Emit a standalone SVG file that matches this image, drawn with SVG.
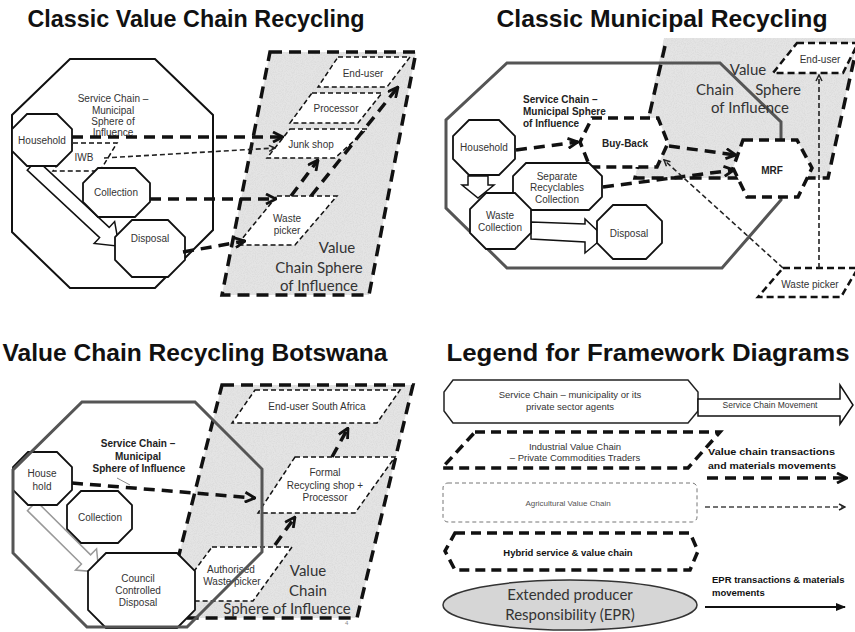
<svg xmlns="http://www.w3.org/2000/svg" width="855" height="632" viewBox="0 0 855 632">
<defs>
<style>
.title{font-family:"Liberation Sans",Arial,sans-serif;font-weight:bold;font-size:24px;fill:#111;text-anchor:middle}
.lbl{font-family:"Liberation Sans",Arial,sans-serif;font-size:10px;fill:#333;text-anchor:middle}
.lblb{font-family:"Liberation Sans",Arial,sans-serif;font-size:10px;font-weight:bold;fill:#222;text-anchor:middle}
.lg{font-family:"Liberation Sans",Arial,sans-serif;font-size:9.5px;fill:#333;text-anchor:middle}
.lgb{font-family:"Liberation Sans",Arial,sans-serif;font-size:9.5px;font-weight:bold;fill:#111}
.sph{font-family:Lato,"Open Sans",sans-serif;font-size:15px;fill:#333;text-anchor:middle}
.svc{fill:#fff;stroke:#111;stroke-width:1.8}
.svcbig{fill:none;stroke:#111;stroke-width:2}
.svcgrey{fill:none;stroke:#555;stroke-width:3}
.vcbox{fill:#fff;stroke:#111;stroke-width:1.5;stroke-dasharray:5 3}
.vcbox2{fill:#fff;stroke:#111;stroke-width:2.5;stroke-dasharray:7 4}
.sphere{fill:#e4e4e4}
.sphereline{fill:none;stroke:#111;stroke-width:3.5;stroke-dasharray:12 7}
.hyb{fill:#fff;stroke:#111;stroke-width:3.5;stroke-dasharray:10 6}
.flow{fill:none;stroke:#111;stroke-width:3.5;stroke-dasharray:11 7}
.thin{fill:none;stroke:#222;stroke-width:1.6;stroke-dasharray:5 3}
.block{fill:#fff;stroke:#111;stroke-width:1.5}
</style>
<filter id="grain" x="0" y="0" width="100%" height="100%">
  <feTurbulence type="fractalNoise" baseFrequency="0.9" numOctaves="2" seed="4" result="n"/>
  <feColorMatrix in="n" type="matrix" values="0 0 0 0 0.6  0 0 0 0 0.6  0 0 0 0 0.6  0.9 0 0 0 -0.35" result="g"/>
  <feComposite in="g" in2="SourceGraphic" operator="in" result="gi"/>
  <feMerge><feMergeNode in="SourceGraphic"/><feMergeNode in="gi"/></feMerge>
</filter>
<marker id="chev" viewBox="0 0 12 12" markerWidth="12" markerHeight="12" refX="11" refY="6" orient="auto" markerUnits="userSpaceOnUse">
  <path d="M1,1 L11,6 L1,11" fill="none" stroke="#111" stroke-width="2.8"/>
</marker>
<marker id="chevS" viewBox="0 0 8 8" markerWidth="8" markerHeight="8" refX="7" refY="4" orient="auto" markerUnits="userSpaceOnUse">
  <path d="M1,1 L7,4 L1,7" fill="none" stroke="#222" stroke-width="1.5"/>
</marker>
<marker id="tri" viewBox="0 0 10 10" markerWidth="10" markerHeight="10" refX="9" refY="5" orient="auto" markerUnits="userSpaceOnUse">
  <path d="M0,1 L10,5 L0,9 Z" fill="#111"/>
</marker>
</defs>

<rect width="855" height="632" fill="#fff"/>

<!-- Titles -->
<text class="title" x="196" y="27" textLength="337" lengthAdjust="spacingAndGlyphs">Classic Value Chain Recycling</text>
<text class="title" x="662" y="27" textLength="331" lengthAdjust="spacingAndGlyphs">Classic Municipal Recycling</text>
<text class="title" x="195" y="361" textLength="385" lengthAdjust="spacingAndGlyphs">Value Chain Recycling Botswana</text>
<text class="title" x="648" y="361" textLength="403" lengthAdjust="spacingAndGlyphs">Legend for Framework Diagrams</text>

<!-- ===== Panel 1: classic value chain recycling ===== -->
<g id="p1-value-sphere">
  <polygon class="sphere" filter="url(#grain)" points="270,52 416,52 369,295 222,295"/>
  <polygon class="sphereline" points="270,52 416,52 369,295 222,295"/>
  <text class="sph" x="337" y="253">Value</text>
  <text class="sph" x="319" y="273">Chain Sphere</text>
  <text class="sph" x="319" y="291">of Influence</text>
</g>
<g id="p1-service-sphere">
  <polygon class="svcbig" points="70,59 155,59 213,115 213,230 155,288 70,288 12,232 12,115"/>
  <text class="lbl" x="113" y="102">Service Chain –</text>
  <text class="lbl" x="113" y="114">Municipal</text>
  <text class="lbl" x="113" y="125">Sphere of</text>
  <text class="lbl" x="113" y="136">Influence</text>
</g>
<g id="p1-end-user">
  <polygon class="vcbox" points="338,57 410,57 387,87 318,87"/>
  <text class="lbl" x="363" y="77">End-user</text>
</g>
<g id="p1-processor">
  <polygon class="vcbox" points="312,93 382,93 358,123 290,123"/>
  <text class="lbl" x="336" y="112">Processor</text>
</g>
<g id="p1-junk-shop">
  <polygon class="vcbox" points="290,129 367,129 335,158 267,158"/>
  <text class="lbl" x="311" y="148">Junk shop</text>
</g>
<g id="p1-waste-picker">
  <polygon class="vcbox" points="277,196 337,196 295,245 237,245"/>
  <text class="lbl" x="287" y="222">Waste</text>
  <text class="lbl" x="287" y="234">picker</text>
</g>
<g id="p1-iwb">
  <polygon class="vcbox" points="73,143 117,143 100,171 53,171"/>
  <text class="lbl" x="84" y="161">IWB</text>
</g>
<g id="p1-service-flow">
  <polygon class="block" transform="translate(32,165) rotate(43)" points="0,-7 99,-7 99,-15 119,0 99,15 99,7 0,7"/>
</g>
<g id="p1-household">
  <polygon class="svc" points="27,114 57,114 72,129 72,151 57,166 27,166 12,151 12,129"/>
  <text class="lbl" x="42" y="144">Household</text>
</g>
<g id="p1-collection">
  <polygon class="svc" points="98,168 135,168 150,183 150,202 135,217 98,217 83,202 83,183"/>
  <text class="lbl" x="116" y="196">Collection</text>
</g>
<g id="p1-disposal">
  <polygon class="svc" points="132,220 168,220 185,237 185,260 168,277 132,277 115,260 115,237"/>
  <text class="lbl" x="150" y="242">Disposal</text>
</g>

<!-- ===== Panel 2: classic municipal recycling ===== -->
<g id="p2-value-sphere">
  <polygon class="sphere" filter="url(#grain)" points="664,38 858,38 828,178 635,178"/>
  <path class="sphereline" d="M665,46 L635,178 L828,178 L857,46"/>
</g>
<g id="p2-service-sphere">
  <polygon class="svcgrey" points="507,63 720,63 781,122 781,200 722,268 507,268 446,208 446,120"/>
  <text class="lblb" x="523" y="103" style="text-anchor:start">Service Chain –</text>
  <text class="lblb" x="523" y="115" style="text-anchor:start">Municipal Sphere</text>
  <text class="lblb" x="523" y="127" style="text-anchor:start">of Influence</text>
</g>
<g id="p2-sphere-label">
  <text class="sph" x="748" y="75">Value</text>
  <text class="sph" x="715" y="95">Chain</text>
  <text class="sph" x="778" y="95">Sphere</text>
  <text class="sph" x="750" y="113">of Influence</text>
</g>
<g id="p2-end-user">
  <polygon class="vcbox2" points="797,43 858,43 843,73 773,73"/>
  <text class="lbl" x="820" y="63">End-user</text>
</g>
<g id="p2-waste-picker">
  <polygon class="vcbox2" points="783,268 858,268 841,297 758,297"/>
  <text class="lbl" x="810" y="288">Waste picker</text>
</g>
<g id="p2-buy-back">
  <polygon class="hyb" points="592,118 658,118 668,143 657,167 590,167 580,142"/>
  <text class="lblb" x="625" y="147">Buy-Back</text>
</g>
<g id="p2-mrf">
  <polygon class="hyb" points="743,140 797,140 812,168 798,197 747,197 733,168"/>
  <text class="lblb" x="772" y="174">MRF</text>
</g>
<g id="p2-household">
  <polygon class="svc" points="469,120 499,120 515,136 515,159 499,175 469,175 453,159 453,136"/>
  <text class="lbl" x="484" y="151">Household</text>
</g>
<g id="p2-separate">
  <polygon class="svc" points="526,163 589,163 602,176 602,197 589,210 526,210 513,197 513,176"/>
  <text class="lbl" x="557" y="180">Separate</text>
  <text class="lbl" x="557" y="191">Recyclables</text>
  <text class="lbl" x="557" y="203">Collection</text>
</g>
<g id="p2-service-flow">
  <polygon class="block" points="468,176 488,176 488,185 494,185 478,198 462,185 468,185"/>
  <polygon class="block" points="531,222 585,224 585,219 604,237 585,253 585,242 531,239"/>
</g>
<g id="p2-waste-collection">
  <polygon class="svc" points="486,193 515,193 531,209 531,233 515,249 486,249 470,233 470,209"/>
  <text class="lbl" x="500" y="219">Waste</text>
  <text class="lbl" x="500" y="231">Collection</text>
</g>
<g id="p2-disposal">
  <polygon class="svc" points="613,205 646,205 662,221 662,243 646,259 613,259 597,243 597,221"/>
  <text class="lbl" x="629" y="237">Disposal</text>
</g>

<!-- ===== Panel 3: Botswana ===== -->
<g id="p3-value-sphere">
  <polygon class="sphere" filter="url(#grain)" points="222,385 413,385 357,618 163,618"/>
  <polygon class="sphereline" points="222,385 413,385 357,618 163,618"/>
  <text class="sph" x="308" y="576">Value</text>
  <text class="sph" x="308" y="596">Chain</text>
  <text class="sph" x="287" y="614">Sphere of Influence</text>
  <text x="345" y="625" style="font-family:'Liberation Sans',sans-serif;font-size:6px;fill:#888">4</text>
</g>
<g id="p3-end-user">
  <polygon class="vcbox" points="255,390 400,390 377,423 232,423"/>
  <text class="lbl" x="317" y="410">End-user South Africa</text>
</g>
<g id="p3-formal">
  <polygon class="vcbox" points="295,457 395,457 355,513 258,513"/>
  <text class="lbl" x="325" y="476">Formal</text>
  <text class="lbl" x="325" y="489">Recycling shop +</text>
  <text class="lbl" x="325" y="501">Processor</text>
</g>
<g id="p3-authorised">
  <polygon class="vcbox" points="212,547 292,547 253,601 172,601"/>
  <text class="lbl" x="231" y="573">Authorised</text>
  <text class="lbl" x="232" y="585">Waste picker</text>
</g>
<g id="p3-service-flow">
  <polygon class="block" style="stroke:#999" transform="translate(32,506) rotate(44.7)" points="0,-6.5 76,-6.5 76,-15 94,0 76,15 76,6.5 0,6.5"/>
</g>
<g id="p3-household">
  <polygon class="svc" points="28,452 57,452 72,467 72,490 57,505 28,505 13,490 13,467"/>
  <text class="lbl" x="42" y="477">House</text>
  <text class="lbl" x="42" y="490">hold</text>
</g>
<g id="p3-collection">
  <polygon class="svc" points="81,491 118,491 132,505 132,529 118,543 81,543 67,529 67,505"/>
  <text class="lbl" x="100" y="521">Collection</text>
</g>
<g id="p3-council">
  <polygon class="svc" points="106,553 177,553 195,571 195,610 177,628 106,628 88,610 88,571"/>
  <text class="lbl" x="138" y="582">Council</text>
  <text class="lbl" x="138" y="594">Controlled</text>
  <text class="lbl" x="138" y="606">Disposal</text>
</g>

<!-- ===== Legend ===== -->
<g id="lg-service-chain">
  <polygon points="453,380 688,380 698,392 698,411 688,423 453,423 444,411 444,392" fill="#fff" stroke="#222" stroke-width="1.5"/>
  <text class="lg" x="570" y="398">Service Chain – municipality or its</text>
  <text class="lg" x="570" y="410">private sector agents</text>
</g>
<g id="lg-service-move">
  <polygon class="block" points="698,399 840,399 840,385 853,405 840,424 840,416 698,416"/>
  <text class="lg" x="770" y="408" style="font-size:8.5px">Service Chain Movement</text>
</g>
<g id="lg-industrial">
  <polygon class="hyb" points="475,432 720,432 688,468 442,468"/>
  <text class="lg" x="575" y="450">Industrial Value Chain</text>
  <text class="lg" x="575" y="461">– Private Commodities Traders</text>
</g>
<g id="lg-agri">
  <rect x="443" y="483" width="254" height="39" rx="5" fill="#fff" stroke="#777" stroke-width="1" stroke-dasharray="4 3"/>
  <text class="lg" x="568" y="506" style="font-size:8px;fill:#555">Agricultural Value Chain</text>
</g>
<g id="lg-hybrid">
  <polygon class="hyb" points="455,533 690,533 698,551 690,570 455,570 445,551"/>
  <text class="lg" x="568" y="556" style="font-weight:bold;fill:#111">Hybrid service &amp; value chain</text>
</g>
<g id="lg-epr">
  <ellipse cx="570" cy="605" rx="127" ry="25" fill="#d6d6d6" stroke="#333" stroke-width="1.5"/>
  <text class="sph" x="570" y="600">Extended producer</text>
  <text class="sph" x="570" y="620">Responsibility (EPR)</text>
</g>
<g id="lg-notes">
  <text class="lgb" x="708" y="455" textLength="127" lengthAdjust="spacingAndGlyphs">Value chain transactions</text>
  <text class="lgb" x="708" y="469" textLength="128" lengthAdjust="spacingAndGlyphs">and materials movements</text>
  <text class="lgb" x="712" y="583">EPR transactions &amp; materials</text>
  <text class="lgb" x="712" y="596">movements</text>
</g>

<!-- ===== Connectors ===== -->
<g id="connectors">
  <!-- panel 1 -->
  <line class="flow" x1="72" y1="137" x2="283" y2="137" marker-end="url(#chev)"/>
  <line class="thin" x1="104" y1="158" x2="275" y2="148" marker-end="url(#chevS)"/>
  <line class="flow" x1="150" y1="199" x2="276" y2="199" marker-end="url(#chev)"/>
  <line class="flow" x1="183" y1="252" x2="245" y2="241" marker-end="url(#chev)"/>
  <line class="flow" x1="291" y1="196" x2="318" y2="160" marker-end="url(#chev)"/>
  <line class="flow" x1="311" y1="196" x2="398" y2="87" marker-end="url(#chev)"/>
  <!-- panel 2 -->
  <line class="flow" x1="516" y1="150" x2="578" y2="142" marker-end="url(#chev)"/>
  <line class="flow" x1="669" y1="146" x2="736" y2="155" marker-end="url(#chev)"/>
  <line class="flow" x1="603" y1="187" x2="734" y2="170" marker-end="url(#chev)"/>
  <line class="thin" x1="783" y1="268" x2="664" y2="160" marker-end="url(#chevS)"/>
  <line class="thin" x1="819" y1="268" x2="819" y2="75" marker-end="url(#chevS)"/>
  <!-- panel 3 -->
  <line class="flow" x1="72" y1="483" x2="255" y2="498" marker-end="url(#chev)"/>
  <line class="flow" x1="275" y1="545" x2="295" y2="517" marker-end="url(#chev)"/>
  <line class="flow" x1="332" y1="457" x2="348" y2="428" marker-end="url(#chev)"/>
  <line x1="117" y1="478" x2="130" y2="485" stroke="#888" stroke-width="1"/>
  <!-- legend -->
  <line class="flow" x1="707" y1="478" x2="847" y2="478" marker-end="url(#chev)"/>
  <line class="thin" x1="705" y1="507" x2="845" y2="507" style="stroke:#444" marker-end="url(#chevS)"/>
  <line x1="705" y1="607" x2="845" y2="607" stroke="#111" stroke-width="2" marker-end="url(#tri)"/>
</g>

<!-- Botswana service sphere outline, drawn over its contents -->
<g id="p3-service-sphere">
  <polygon class="svcgrey" points="82,402 195,402 262,469 262,552 187,627 87,627 13,553 13,470"/>
  <text class="lblb" x="138" y="447">Service Chain –</text>
  <text class="lblb" x="138" y="460">Municipal</text>
  <text class="lblb" x="139" y="472">Sphere of Influence</text>
</g>
</svg>
